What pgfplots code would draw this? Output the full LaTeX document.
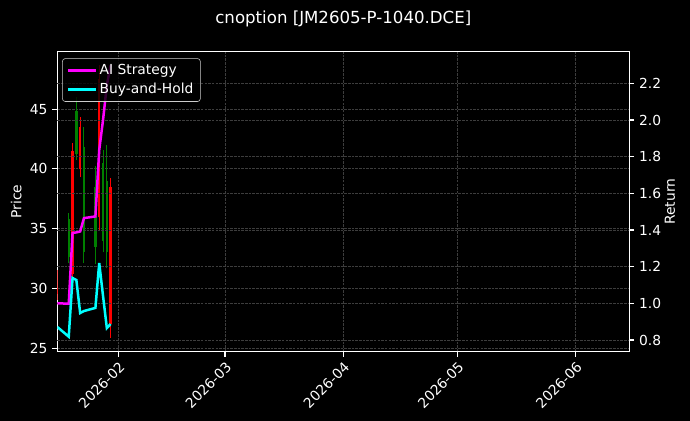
\documentclass[border=0pt]{standalone}
\usepackage{pgfplots}
\pgfplotsset{compat=1.18}
\usepackage{pgfplotstable}
\usepackage{fontspec}
\setmainfont{DejaVu Sans}

\definecolor{upgreen}{HTML}{008000}
\definecolor{downred}{HTML}{FF0000}
\definecolor{aimag}{HTML}{FF00FF}
\definecolor{bhcyan}{HTML}{00FFFF}

% day of year 2026 (Jan 1 = 1)
\pgfplotstableread{
d  o     h      l      c
19 32.6  36.3   32.1   35.8
21 41.2  46.0   40.7   44.8
23 33.0  43.5   32.1   41.8
26 33.5  40.2   32.0   38.5
28 34.0  41.6   33.0   40.5
29 33.0  42.0   31.7   39.0
}\upcandles
\pgfplotstableread{
d  o     h      l      c
16 30.0  31.5   29.0   29.5
20 41.5  42.2   30.7   31.2
22 43.5  44.3   39.3   40.0
27 47.5  48.66  34.8   36.0
30 38.5  39.2   25.84  27.0
}\downcandles

\pgfplotsset{
  darkax/.style={
    scale only axis, width=411.84bp, height=216bp,
    xmin=16, xmax=166.1,
    axis line style={white, line width=0.8bp},
    tick align=outside, major tick length=3.5bp,
    tick style={white, line width=0.8bp},
    ticklabel style={white, font=\fontsize{10}{12}\selectfont},
    label style={white, font=\fontsize{10}{12}\selectfont},
    /pgf/number format/assume math mode=true,
    grid=major,
    grid style={dash pattern=on 1.85bp off 0.8bp, color=white!24!black, line width=0.5bp},
  },
  wick/.style={draw=none, mark=none, forget plot,
    error bars/.cd, y dir=plus, y explicit, error mark=none,
    error bar style={draw=#1, solid, line width=0.7bp}},
  body/.style={draw=none, mark=none, forget plot,
    error bars/.cd, y dir=plus, y explicit, error mark=none,
    error bar style={draw=#1, solid, line width=1.7bp}},
}

\begin{document}
\begin{tikzpicture}
\fill[black] (-41.26bp,-49.9bp) rectangle (455.54bp,253.22bp);
\path[use as bounding box] (-41.26bp,-49.9bp) rectangle (455.54bp,253.22bp);

\begin{axis}[darkax,
  ymin=24.7, ymax=49.8,
  xtick={32,60,91,121,152},
  xticklabels={2026-02,2026-03,2026-04,2026-05,2026-06},
  xticklabel style={rotate=45, anchor=north east, inner sep=2bp},
  ytick={25,30,35,40,45},
  xtick pos=lower, ytick pos=lower,
  ylabel={Price},
  ylabel style={at={(axis description cs:-0.072,0.5)}, anchor=center},
  title={cnoption [JM2605-P-1040.DCE]},
  title style={white, font=\fontsize{12}{14}\selectfont,
    at={(axis description cs:0.5,1.08)}, anchor=center, yshift=0pt},
]
\addplot[wick=upgreen] table[x=d, y=l, y error expr=\thisrow{h}-\thisrow{l}] {\upcandles};
\addplot[body=upgreen] table[x=d, y=o, y error expr=\thisrow{c}-\thisrow{o}] {\upcandles};
\addplot[wick=downred] table[x=d, y=l, y error expr=\thisrow{h}-\thisrow{l}] {\downcandles};
\addplot[body=downred] table[x=d, y=c, y error expr=\thisrow{o}-\thisrow{c}] {\downcandles};
\end{axis}

\begin{axis}[darkax,
  ymin=0.736, ymax=2.373,
  axis x line=none,
  axis y line*=right,
  ytick={0.8,1.0,1.2,1.4,1.6,1.8,2.0,2.2},
  yticklabel style={/pgf/number format/.cd, fixed, fixed zerofill, precision=1},
  ylabel={Return},
  ylabel style={at={(axis description cs:1.071,0.5)}, anchor=center},
  legend style={at={(axis description cs:0.0085,0.978)}, anchor=north west,
    fill=black, fill opacity=0.8, text opacity=1, draw=white!80!black,
    rounded corners=2bp, text=white, font=\fontsize{10}{12}\selectfont,
    inner xsep=3bp, inner ysep=2bp, row sep=1bp},
  legend cell align=left,
  legend image code/.code={\draw[#1] (0bp,0bp) -- (20bp,0bp);},
]
\addplot[aimag, line width=1.8bp, mark=none] coordinates {
  (16,1.000) (19,0.998) (20,1.384) (21,1.387) (22,1.392) (23,1.465)
  (26,1.474) (27,1.837) (28,2.000) (29,2.190) (30,2.300)
};
\addlegendentry{AI Strategy}
\addplot[bhcyan, line width=1.8bp, mark=none] coordinates {
  (16,0.871) (19,0.818) (20,1.138) (21,1.127) (22,0.947) (23,0.958)
  (26,0.975) (27,1.220) (28,1.040) (29,0.865) (30,0.887)
};
\addlegendentry{Buy-and-Hold}
\end{axis}
\end{tikzpicture}
\end{document}
